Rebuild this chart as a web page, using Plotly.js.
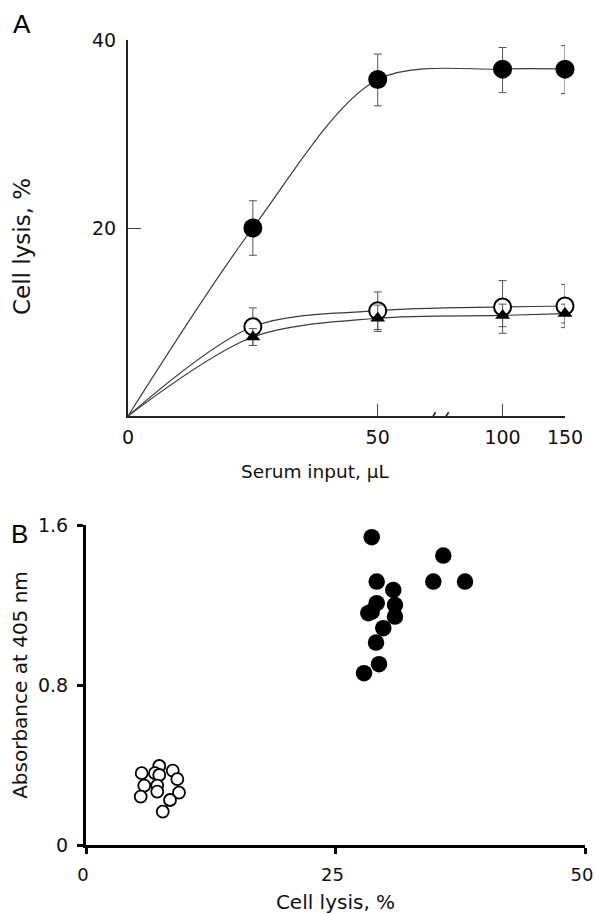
<!DOCTYPE html>
<html><head><meta charset="utf-8">
<script src="https://cdn.plot.ly/plotly-3.0.1.min.js"></script>
<style>html,body{margin:0;padding:0;background:#fff}#chart{width:595px;height:914px}</style>
</head><body><div id="chart"></div>
<script>
// ---------- Panel A data ----------
const serumDoses = [0, 25, 50, 100, 150];
const lysisFilled = [0, 20.0, 35.8, 36.9, 36.9];
const lysisFilledErrUp = [0, 2.9, 2.7, 2.3, 2.5];
const lysisFilledErrDown = [0, 2.9, 2.8, 2.5, 2.6];
const lysisOpen = [0, 9.5, 11.2, 11.6, 11.7];
const lysisOpenErr = [0, 2.0, 2.0, 2.8, 2.3];
const lysisTriangle = [0, 8.4, 10.4, 10.7, 10.9];
const lysisTriangleErr = [0, 0.9, 1.4, 1.2, 1.0];
const serumTickVals = [0, 50, 100, 150];
const serumTickText = ['0', '50', '100', '150'];
const lysisTickVals = [20, 40];

// ---------- Panel B data ----------
const openLysis = [5.58, 7.34, 6.91, 7.34, 8.69, 9.15, 5.84, 7.14, 7.14, 5.48, 9.32, 8.42, 7.69];
const openAbs   = [0.359, 0.395, 0.359, 0.350, 0.372, 0.329, 0.297, 0.297, 0.267, 0.242, 0.262, 0.225, 0.167];
const filledLysis = [28.63, 35.80, 29.13, 34.80, 37.98, 30.79, 29.13, 30.96, 28.29, 28.63, 30.96, 29.79, 29.06, 29.36, 27.86];
const filledAbs   = [1.539, 1.447, 1.317, 1.317, 1.317, 1.275, 1.209, 1.200, 1.159, 1.167, 1.142, 1.084, 1.012, 0.904, 0.859];
const absTickVals = [0, 0.8, 1.6];
const absTickText = ['0', '0.8', '1.6'];
const lysisBTickVals = [0, 25, 50];

// broken x axis in panel A: 0-50 linear, then compressed 50-100 and 100-150
function axisPos(v) {
  if (v <= 50) return v;
  if (v <= 100) return 50 + (v - 50) * 0.5;
  return 75 + (v - 100) * 0.25;
}
const xA = serumDoses.map(axisPos);
const xAm = xA.slice(1);

const lineStyle = {shape: 'spline', smoothing: 0.9, width: 1.2, color: '#3a3a3a'};
const errStyle = {color: '#555', thickness: 1, width: 4};
const FAM = 'DejaVu Sans, Arial, sans-serif';

const traces = [
  {x: xA, y: lysisFilled, mode: 'lines', line: lineStyle, xaxis: 'x', yaxis: 'y', hoverinfo: 'skip'},
  {x: xA, y: lysisOpen, mode: 'lines', line: lineStyle, xaxis: 'x', yaxis: 'y', hoverinfo: 'skip'},
  {x: xA, y: lysisTriangle, mode: 'lines', line: lineStyle, xaxis: 'x', yaxis: 'y', hoverinfo: 'skip'},
  {x: xAm, y: lysisFilled.slice(1), mode: 'markers', xaxis: 'x', yaxis: 'y', cliponaxis: false,
   marker: {symbol: 'circle', size: 19, color: '#000'},
   error_y: Object.assign({type: 'data', symmetric: false, array: lysisFilledErrUp.slice(1), arrayminus: lysisFilledErrDown.slice(1)}, errStyle)},
  {x: xAm, y: lysisOpen.slice(1), mode: 'markers', xaxis: 'x', yaxis: 'y', cliponaxis: false,
   marker: {symbol: 'circle', size: 17, color: '#fff', line: {color: '#000', width: 2}},
   error_y: Object.assign({type: 'data', array: lysisOpenErr.slice(1)}, errStyle)},
  {x: xAm, y: lysisTriangle.slice(1), mode: 'markers', xaxis: 'x', yaxis: 'y', cliponaxis: false,
   marker: {symbol: 'triangle-up', size: 13, color: '#000'},
   error_y: Object.assign({type: 'data', array: lysisTriangleErr.slice(1)}, errStyle)},
  {x: openLysis, y: openAbs, mode: 'markers', xaxis: 'x2', yaxis: 'y2', cliponaxis: false,
   marker: {symbol: 'circle', size: 12, color: '#fff', line: {color: '#000', width: 1.8}}},
  {x: filledLysis, y: filledAbs, mode: 'markers', xaxis: 'x2', yaxis: 'y2', cliponaxis: false,
   marker: {symbol: 'circle', size: 16.5, color: '#000'}}
];

const tickFont = {family: FAM, size: 19, color: '#111'};

const layout = {
  width: 595, height: 914,
  margin: {l: 0, r: 0, t: 0, b: 0},
  paper_bgcolor: '#fff', plot_bgcolor: 'rgba(0,0,0,0)',
  showlegend: false,
  font: {family: FAM, color: '#111'},
  xaxis: {
    domain: [128/595, 565/595], anchor: 'y', range: [0, 87.5],
    showline: true, linewidth: 2, linecolor: '#222', showgrid: false, zeroline: false,
    ticks: 'inside', ticklen: 12, tickwidth: 1, tickcolor: '#444',
    tickvals: serumTickVals.map(axisPos), ticktext: serumTickText, tickfont: tickFont,
    ticklabelstandoff: 3, ticklabeloverflow: 'allow'
  },
  yaxis: {
    domain: [(914-416)/914, (914-40)/914], anchor: 'x', range: [0, 40],
    showline: true, linewidth: 2, linecolor: '#222', showgrid: false, zeroline: false,
    ticks: 'inside', ticklen: 13, tickwidth: 1, tickcolor: '#444',
    tickvals: lysisTickVals, tickfont: tickFont, ticklabelstandoff: 6, ticklabeloverflow: 'allow'
  },
  xaxis2: {
    domain: [86/595, 585/595], anchor: 'y2', range: [0, 50],
    showline: true, linewidth: 3, linecolor: '#000', showgrid: false, zeroline: false,
    ticks: 'outside', ticklen: 6, tickwidth: 3, tickcolor: '#000',
    tickvals: lysisBTickVals, tickfont: {family: FAM, size: 18, color: '#111'},
    ticklabelstandoff: 5, ticklabelshift: -3, ticklabeloverflow: 'allow',
    title: {text: 'Cell lysis, %', font: {family: FAM, size: 20}, standoff: 14}
  },
  yaxis2: {
    domain: [(914-845)/914, (914-525)/914], anchor: 'x2', range: [0, 1.6],
    showline: true, linewidth: 3, linecolor: '#000', showgrid: false, zeroline: false,
    ticks: 'outside', ticklen: 6, tickwidth: 3, tickcolor: '#000',
    tickvals: absTickVals, ticktext: absTickText, tickfont: tickFont, ticklabelstandoff: 5, ticklabeloverflow: 'allow',
    title: {text: 'Absorbance at 405 nm', font: {family: FAM, size: 20}, standoff: 5}
  },
  shapes: [
    // gap in the broken x axis
    {type: 'rect', xref: 'x', yref: 'y', x0: 60.8, x1: 63.6, y0: -0.6, y1: 0.6, fillcolor: '#fff', line: {width: 0}, layer: 'above'},
    {type: 'line', xref: 'x', yref: 'y', x0: 60.2, x1: 61.6, y0: -0.75, y1: 0.4, line: {color: '#222', width: 1.6}, layer: 'above'},
    {type: 'line', xref: 'x', yref: 'y', x0: 62.8, x1: 64.2, y0: -0.75, y1: 0.4, line: {color: '#222', width: 1.6}, layer: 'above'}
  ],
  annotations: [
    {text: 'A', xref: 'paper', yref: 'paper', x: 22/595, y: 1 - 24/914, xanchor: 'center', yanchor: 'middle', showarrow: false,
     font: {family: 'Arial, Liberation Sans, sans-serif', size: 26, color: '#000'}},
    {text: 'B', xref: 'paper', yref: 'paper', x: 19/595, y: 1 - 534/914, xanchor: 'center', yanchor: 'middle', showarrow: false,
     font: {family: 'Arial, Liberation Sans, sans-serif', size: 26, color: '#000'}},
    {text: 'Cell lysis, %', textangle: -90, xref: 'paper', yref: 'paper', x: 22/595, y: 1 - 247/914,
     xanchor: 'center', yanchor: 'middle', showarrow: false, font: {family: FAM, size: 23, color: '#111'}},
    {text: 'Serum input, µL', xref: 'paper', yref: 'paper', x: 315/595, y: 1 - 471/914,
     xanchor: 'center', yanchor: 'middle', showarrow: false, font: {family: FAM, size: 18.5, color: '#111'}}
  ]
};

Plotly.newPlot('chart', traces, layout, {staticPlot: true, displayModeBar: false});
</script>
</body></html>
